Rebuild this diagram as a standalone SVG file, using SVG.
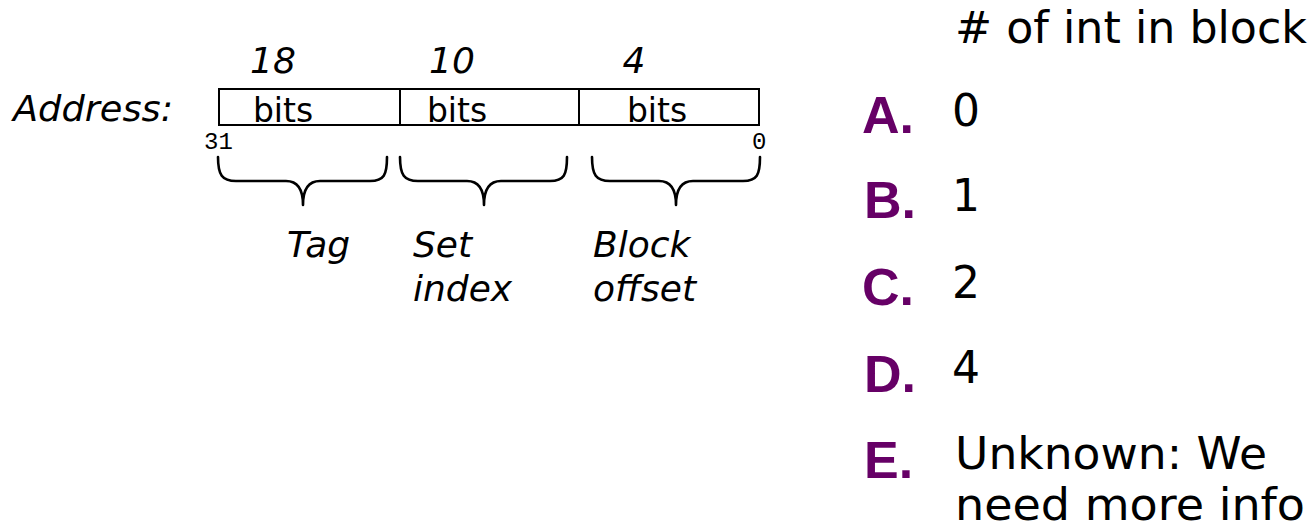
<svg xmlns="http://www.w3.org/2000/svg" width="1312" height="531" viewBox="0 0 1312 531">
<style>
  .t { font-family: "DejaVu Sans", "Liberation Sans", sans-serif; fill: #000; }
  .it { font-family: "DejaVu Sans", "Liberation Sans", sans-serif; font-style: italic; fill: #000; }
  .mono { font-family: "Liberation Mono", "DejaVu Sans Mono", monospace; font-size: 24px; fill: #000; }
  .box { fill: #fff; stroke: #000; stroke-width: 2; }
  .div { stroke: #000; stroke-width: 2; }
  .brace { fill: none; stroke: #000; stroke-width: 2.6; stroke-linejoin: round; stroke-linecap: round; }
  .opt { font-family: "Liberation Sans", Arial, sans-serif; font-weight: bold; font-size: 52px; fill: #660066; }
  .ans { font-family: "DejaVu Sans", "Liberation Sans", sans-serif; font-size: 44px; fill: #000; }
</style>
<rect width="1312" height="531" fill="#fff"/>

<g id="address-label">
  <text class="it" x="13" y="121" font-size="35" textLength="160" lengthAdjust="spacingAndGlyphs">Address:</text>
</g>

<g id="address-box">
  <rect class="box" x="219" y="89" width="540" height="36"/>
  <line class="div" x1="400" y1="89" x2="400" y2="125"/>
  <line class="div" x1="579" y1="89" x2="579" y2="125"/>
</g>

<g id="field-tag">
  <text class="it" x="273" y="73" font-size="36" text-anchor="middle">18</text>
  <text class="t" x="283" y="122" font-size="33" text-anchor="middle">bits</text>
</g>
<g id="field-index">
  <text class="it" x="452" y="73" font-size="36" text-anchor="middle">10</text>
  <text class="t" x="457" y="122" font-size="33" text-anchor="middle">bits</text>
</g>
<g id="field-offset">
  <text class="it" x="634" y="73" font-size="36" text-anchor="middle">4</text>
  <text class="t" x="657" y="122" font-size="33" text-anchor="middle">bits</text>
</g>

<g id="bit-numbers">
  <text class="mono" x="204" y="149">31</text>
  <text class="mono" x="752" y="149">0</text>
</g>

<g id="connectors">
  <path class="brace" d="M218,157 C218,175 222,181 236,181 L286,181 C298,181 303,190 303,205 C303,190 308,181 320,181 L370,181 C384,181 387,175 387,157"/>
  <path class="brace" d="M400,157 C400,175 404,181 418,181 L467,181 C479,181 484,190 484,205 C484,190 489,181 501,181 L550,181 C564,181 567,175 567,157"/>
  <path class="brace" d="M592,157 C592,175 596,181 610,181 L659,181 C671,181 676,190 676,205 C676,190 681,181 693,181 L743,181 C757,181 760,175 760,157"/>
</g>

<g id="label-tag">
  <text class="it" x="287" y="257" font-size="36">Tag</text>
</g>
<g id="label-set-index">
  <text class="it" x="413" y="257" font-size="36">Set</text>
  <text class="it" x="413" y="301" font-size="36">index</text>
</g>
<g id="label-block-offset">
  <text class="it" x="593" y="257" font-size="36">Block</text>
  <text class="it" x="593" y="301" font-size="36">offset</text>
</g>

<g id="question">
  <text class="ans" x="955" y="43" textLength="352" lengthAdjust="spacingAndGlyphs"># of int in block</text>
</g>

<g id="option-a">
  <text class="opt" x="862" y="133">A.</text>
  <text class="ans" x="952" y="126">0</text>
</g>
<g id="option-b">
  <text class="opt" x="864" y="218">B.</text>
  <text class="ans" x="952" y="211">1</text>
</g>
<g id="option-c">
  <text class="opt" x="862" y="305">C.</text>
  <text class="ans" x="952" y="298">2</text>
</g>
<g id="option-d">
  <text class="opt" x="864" y="392">D.</text>
  <text class="ans" x="952" y="383">4</text>
</g>
<g id="option-e">
  <text class="opt" x="864" y="478">E.</text>
  <text class="ans" x="955" y="469" textLength="312" lengthAdjust="spacingAndGlyphs">Unknown: We</text>
  <text class="ans" x="955" y="520" textLength="350" lengthAdjust="spacingAndGlyphs">need more info</text>
</g>
</svg>
